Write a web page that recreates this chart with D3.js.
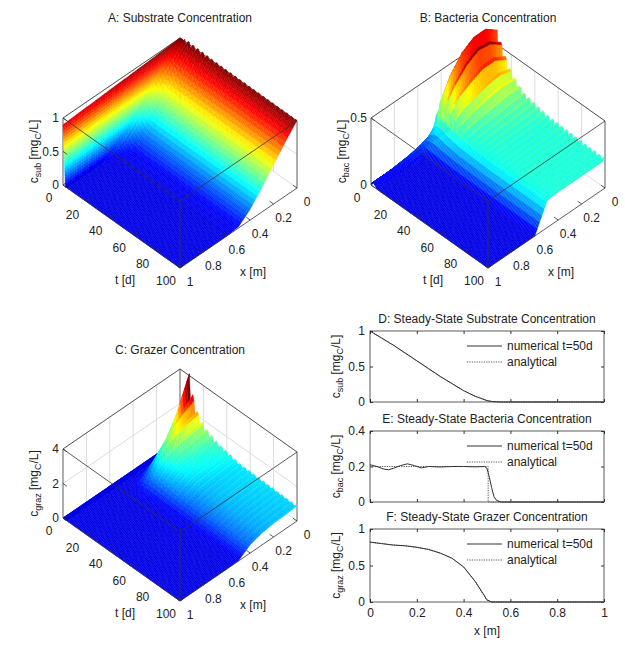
<!DOCTYPE html>
<html><head><meta charset="utf-8">
<script src="https://cdn.jsdelivr.net/npm/d3@7"></script>
<style>body{margin:0;background:#fff}text{font-family:"Liberation Sans",Arial,sans-serif;fill:#222}</style>
</head><body>
<svg id="c" width="625" height="645"></svg>
<script>
// ---------- data ----------
const xNodes = [0,0.1,0.2,0.3,0.4,0.5,0.6,0.7,0.8,0.9,1];
const tNodes = [0,2,5,8,12,16,20,30,50,100];
const subTable = [
 [1,.99,.98,.97,.96,.95,.94,.93,.92,.91,.9],
 [1,.85,.7,.55,.4,.25,.1,.02,0,0,0],
 [1,.83,.64,.45,.27,.1,.02,0,0,0,0],
 [1,.81,.6,.39,.2,.05,0,0,0,0,0],
 [1,.8,.58,.36,.16,.02,0,0,0,0,0],
 [1,.8,.58,.36,.16,.02,0,0,0,0,0],
 [1,.8,.58,.36,.16,.02,0,0,0,0,0],
 [1,.8,.58,.36,.16,.02,0,0,0,0,0],
 [1,.8,.58,.36,.16,.02,0,0,0,0,0],
 [1,.8,.58,.36,.16,.02,0,0,0,0,0]];
const bacTable = [
 [.01,.01,.01,.01,.01,.01,.01,.01,.01,.01,.01],
 [.3,.28,.25,.2,.15,.1,.07,.05,.04,.03,.03],
 [.42,.42,.4,.36,.3,.2,.02,0,0,0,0],
 [.45,.5,.5,.46,.38,.25,0,0,0,0,0],
 [.4,.45,.46,.42,.35,.25,0,0,0,0,0],
 [.34,.38,.38,.35,.31,.23,0,0,0,0,0],
 [.3,.32,.31,.29,.27,.22,0,0,0,0,0],
 [.24,.24,.23,.22,.21,.2,0,0,0,0,0],
 [.21,.2,.2,.2,.2,.19,0,0,0,0,0],
 [.2,.2,.2,.2,.2,.19,0,0,0,0,0]];
const grazTable = [
 [0,0,0,0,0,0,0,0,0,0,0],
 [0,0,0,0,0,0,0,0,0,0,0],
 [.8,.2,0,0,0,0,0,0,0,0,0],
 [3.4,2.0,1.0,.4,.1,0,0,0,0,0,0],
 [2.3,2.0,1.6,1.0,.4,0,0,0,0,0,0],
 [1.8,1.7,1.5,1.2,.6,.05,0,0,0,0,0],
 [1.5,1.4,1.3,1.1,.7,.08,0,0,0,0,0],
 [1.2,1.1,1.05,.95,.65,.05,0,0,0,0,0],
 [.9,.85,.8,.72,.5,.03,0,0,0,0,0],
 [.82,.77,.74,.65,.45,.02,0,0,0,0,0]];
// day-to-day ripple factors (t = 0,2,4,...,100)
const ripple = [1,1,1.3,.8,1.35,.75,1.3,.8,1.28,.82,1.25,.82,1.22,.85,1.2,.86,1.18,.87,1.17,.88,1.16,.88,1.15,.89,1.15,.9,1.14,.9,1.13,.9,1.13,.91,1.12,.91,1.12,.91,1.12,.92,1.11,.92,1.11,.92,1.1,.92,1.1,.93,1.1,.93,1.1,.93,1.1];
// steady state profiles (panels D-F)
const xSS = [0,.05,.1,.15,.2,.25,.3,.35,.4,.45,.5,.52,.54,.56,.6,.7,.8,.9,1];
const subNum = [1,.9,.8,.69,.58,.47,.36,.26,.16,.08,.02,.008,.002,0,0,0,0,0,0];
const subAna = [1,.9,.8,.69,.58,.47,.36,.26,.16,.08,.02,.008,.002,0,0,0,0,0,0];
const xBac = [0,.03,.06,.08,.1,.13,.16,.19,.22,.25,.3,.35,.4,.45,.49,.5,.51,.52,.53,.54,.56,.6,1];
const bacNum = [.21,.2,.185,.182,.19,.205,.215,.205,.192,.2,.197,.2,.2,.198,.2,.19,.14,.08,.03,.01,0,0,0];
const xBacA = [0,.505,.505,1];
const bacAna = [.2,.2,0,0];
const grazNum = [.82,.8,.78,.77,.75,.72,.67,.6,.48,.28,.03,0,0,0,0,0,0,0,0];
const grazAna = [.82,.8,.78,.77,.75,.72,.67,.6,.48,.28,.02,0,0,0,0,0,0,0,0];

// ---------- helpers ----------
const svg = d3.select("#c");
function jet(v){v=Math.max(0,Math.min(1,v));
  const r=Math.max(0,Math.min(1,1.5-Math.abs(4*v-3))),g=Math.max(0,Math.min(1,1.5-Math.abs(4*v-2))),b=Math.max(0,Math.min(1,1.5-Math.abs(4*v-1)));
  return d3.rgb(r*255,g*255,b*255).toString();}
function tableVal(tab,t,x){
  const ti=Math.max(0,Math.min(tNodes.length-2,d3.bisectRight(tNodes,t)-1));
  const ft=Math.min(1,(t-tNodes[ti])/(tNodes[ti+1]-tNodes[ti]));
  const xi=Math.max(0,Math.min(xNodes.length-2,d3.bisectRight(xNodes,x)-1));
  const fx=Math.min(1,(x-xNodes[xi])/(xNodes[xi+1]-xNodes[xi]));
  const a=tab[ti][xi]*(1-fx)+tab[ti][xi+1]*fx, b=tab[ti+1][xi]*(1-fx)+tab[ti+1][xi+1]*fx;
  return a*(1-ft)+b*ft;}
function rip(t){const i=Math.round(t/2);return ripple[Math.min(ripple.length-1,i)];}
const tSamples = d3.range(0,3,0.1).concat(d3.range(3,100.001,1));

function panel3d(o){
  const g=svg.append("g");
  const tS=d3.scaleLinear([0,100],[1,0]);
  const xS=d3.scaleLinear([0,1],[1,0]);
  const zS=d3.scaleLinear([0,o.zmax],[0,o.zh]);
  const P=(t,x,z)=>[o.fx-tS(t)*117+xS(x)*117, o.fy-tS(t)*83-xS(x)*80-zS(z)];
  const line=(a,b,st,w)=>g.append("line").attr("x1",a[0]).attr("y1",a[1]).attr("x2",b[0]).attr("y2",b[1]).attr("stroke",st).attr("stroke-width",w||1);
  const gridC="#dcdcdc";
  o.zticks.forEach(z=>{line(P(100,0,z),P(0,0,z),gridC);line(P(0,0,z),P(0,1,z),gridC);});
  [20,40,60,80].forEach(t=>line(P(t,0,0),P(t,0,o.zmax),gridC));
  [.2,.4,.6,.8].forEach(x=>line(P(0,x,0),P(0,x,o.zmax),gridC));
  const bc="#333";
  line(P(0,1,o.zmax),P(0,0,o.zmax),bc,.8);line(P(0,0,o.zmax),P(100,0,o.zmax),bc,.8);
  line(P(0,0,0),P(0,0,o.zmax),bc,.8);
  line(P(0,1,0),P(0,1,o.zmax),bc,.8);line(P(100,0,0),P(100,0,o.zmax),bc,.8);
  const nx=50,quads=[];
  const val=(t,x)=>{let v=tableVal(o.tab,t,x);if(x<0.5&&t>3)v*=1+(rip(t)-1)*o.ripAmp;return v;};
  for(let i=0;i<tSamples.length-1;i++)for(let j=0;j<nx;j++){
    const t0=tSamples[i],t1=tSamples[i+1],x0=j/nx,x1=(j+1)/nx;
    const z=[val(t0,x0),val(t1,x0),val(t1,x1),val(t0,x1)];
    quads.push({d:(t0+t1)/200+(x0+x1)/2,pts:[P(t0,x0,z[0]),P(t1,x0,z[1]),P(t1,x1,z[2]),P(t0,x1,z[3])],z:d3.mean(z)});
  }
  quads.sort((a,b)=>a.d-b.d);
  g.append("g").selectAll("path").data(quads).join("path")
   .attr("d",q=>"M"+q.pts.join("L")+"Z")
   .attr("fill",q=>jet(0.1+0.9*q.z/o.cmax)).attr("stroke",q=>jet(0.1+0.9*q.z/o.cmax)).attr("stroke-width",0.4);
  line(P(0,1,o.zmax),P(100,1,o.zmax),bc,.8);line(P(100,1,o.zmax),P(100,0,o.zmax),bc,.8);
  line(P(100,1,0),P(100,1,o.zmax),bc,.8);
  line(P(0,1,0),P(100,1,0),bc,.8);line(P(100,1,0),P(100,0,0),bc,.8);
  [0,20,40,60,80,100].forEach(t=>{const p=P(t,1,0);line(p,[p[0]+4,p[1]-2.8],bc,.8);
    g.append("text").attr("x",p[0]-14).attr("y",p[1]+17).attr("text-anchor","middle").attr("font-size",12).text(t);});
  [0,.2,.4,.6,.8,1].forEach(x=>{const p=P(100,x,0);line(p,[p[0]-4,p[1]-2.8],bc,.8);
    g.append("text").attr("x",p[0]+10).attr("y",p[1]+18).attr("text-anchor","middle").attr("font-size",12).text(x);});
  o.zticks.forEach(z=>{const p=P(0,1,z);line(p,[p[0]+4,p[1]+2.8],bc,.8);
    g.append("text").attr("x",p[0]-4).attr("y",p[1]+4).attr("text-anchor","end").attr("font-size",12).text(z);});
  g.append("text").attr("x",o.fx-55).attr("y",o.fy+16).attr("text-anchor","middle").attr("font-size",12).text("t [d]");
  g.append("text").attr("x",o.fx+73).attr("y",o.fy+8).attr("text-anchor","middle").attr("font-size",12).text("x [m]");
  const zc=P(0,1,o.zmax/2);
  const yl=g.append("text").attr("transform",`translate(${zc[0]-25},${zc[1]}) rotate(-90)`).attr("text-anchor","middle").attr("font-size",12);
  yl.append("tspan").text("c");yl.append("tspan").attr("font-size",9).attr("dy",3).text(o.sub);
  yl.append("tspan").attr("dy",-3).text(" [mg");yl.append("tspan").attr("font-size",9).attr("dy",3).text("C");
  yl.append("tspan").attr("dy",-3).text("/L]");
  g.append("text").attr("x",o.fx).attr("y",o.ty).attr("text-anchor","middle").attr("font-size",12).text(o.title);
}
panel3d({fx:180,fy:268,zh:67,zmax:1,zticks:[0,0.5,1],cmax:1,tab:subTable,ripAmp:0.1,sub:"sub",title:"A: Substrate Concentration",ty:22});
panel3d({fx:488,fy:268,zh:67,zmax:0.5,zticks:[0,0.5],cmax:0.6,tab:bacTable,ripAmp:1,sub:"bac",title:"B: Bacteria Concentration",ty:22});
panel3d({fx:180,fy:601,zh:69,zmax:4,zticks:[0,2,4],cmax:3.2,tab:grazTable,ripAmp:0.6,sub:"graz",title:"C: Grazer Concentration",ty:354});

function panel2d(o){
  const g=svg.append("g");
  const x=d3.scaleLinear([0,1],[370,604]), y=d3.scaleLinear(o.dom,[o.bot,o.top]);
  g.append("rect").attr("x",370).attr("y",o.top).attr("width",234).attr("height",o.bot-o.top).attr("fill","none").attr("stroke","#333").attr("stroke-width",.8);
  const ax=g.append("g").attr("transform",`translate(370,0)`).call(d3.axisLeft(y).tickValues(o.yt).tickSize(-3).tickPadding(5).tickFormat(d=>d));
  ax.select(".domain").remove();ax.selectAll("text").attr("font-size",12).attr("font-family","Liberation Sans");
  g.append("g").attr("transform",`translate(604,0)`).call(d3.axisRight(y).tickValues(o.yt).tickSize(-3).tickFormat("")).select(".domain").remove();
  const bx=g.append("g").attr("transform",`translate(0,${o.bot})`).call(d3.axisBottom(x).ticks(5).tickSize(-3).tickPadding(6).tickFormat(o.xl?(d=>d):""));
  bx.select(".domain").remove();bx.selectAll("text").attr("font-size",12).attr("font-family","Liberation Sans");
  g.append("g").attr("transform",`translate(0,${o.top})`).call(d3.axisTop(x).ticks(5).tickSize(-3).tickFormat("")).select(".domain").remove();
  g.selectAll(".tick line").attr("stroke","#333");
  const ln=d3.line().x(d=>x(d[0])).y(d=>y(d[1]));
  g.append("path").attr("d",ln(o.xa.map((v,i)=>[v,o.ana[i]]))).attr("fill","none").attr("stroke","#555").attr("stroke-dasharray","1.2,1.2").attr("stroke-width",1);
  g.append("path").attr("d",ln(o.xn.map((v,i)=>[v,o.num[i]]))).attr("fill","none").attr("stroke","#333").attr("stroke-width",1);
  const ly=o.top+15;
  g.append("line").attr("x1",467).attr("x2",502).attr("y1",ly).attr("y2",ly).attr("stroke","#333");
  g.append("line").attr("x1",467).attr("x2",502).attr("y1",ly+16).attr("y2",ly+16).attr("stroke","#555").attr("stroke-dasharray","1.2,1.2");
  g.append("text").attr("x",507).attr("y",ly+4).attr("font-size",12).text("numerical t=50d");
  g.append("text").attr("x",507).attr("y",ly+20).attr("font-size",12).text("analytical");
  g.append("text").attr("x",487).attr("y",o.top-8).attr("text-anchor","middle").attr("font-size",12).text(o.title);
  const yl=g.append("text").attr("transform",`translate(340,${(o.top+o.bot)/2}) rotate(-90)`).attr("text-anchor","middle").attr("font-size",12);
  yl.append("tspan").text("c");yl.append("tspan").attr("font-size",9).attr("dy",3).text(o.sub);
  yl.append("tspan").attr("dy",-3).text(" [mg");yl.append("tspan").attr("font-size",9).attr("dy",3).text("C");
  yl.append("tspan").attr("dy",-3).text("/L]");
  if(o.xl)g.append("text").attr("x",487).attr("y",635).attr("text-anchor","middle").attr("font-size",12).text("x [m]");
}
panel2d({top:331,bot:402,dom:[0,1],yt:[0,0.5,1],xn:xSS,num:subNum,xa:xSS,ana:subAna,title:"D: Steady-State Substrate Concentration",sub:"sub"});
panel2d({top:431,bot:502,dom:[0,0.4],yt:[0,0.2,0.4],xn:xBac,num:bacNum,xa:xBacA,ana:bacAna,title:"E: Steady-State Bacteria Concentration",sub:"bac"});
panel2d({top:529,bot:602,dom:[0,1],yt:[0,0.5,1],xn:xSS,num:grazNum,xa:xSS,ana:grazAna,title:"F: Steady-State Grazer Concentration",sub:"graz",xl:true});
</script></body></html>
